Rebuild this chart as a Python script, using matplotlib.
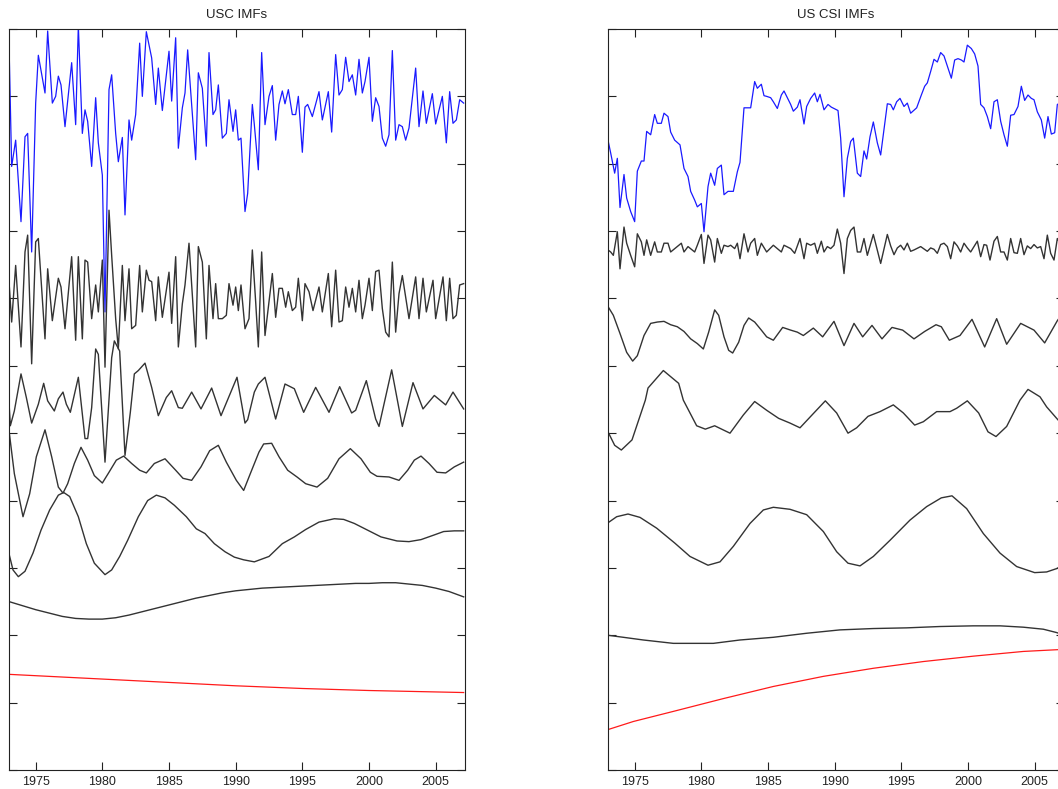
import numpy as np
import matplotlib
matplotlib.use("Agg")
from matplotlib import pyplot as plt

# ---- USC (left panel): (year, value), stacked units ----
usc_raw = [(1973.0, 10.79), (1973.2, 8.96), (1973.5, 9.35), (1973.9, 8.14), (1974.2, 9.40), (1974.4, 9.45),
           (1974.7, 7.69), (1975.0, 9.90), (1975.2, 10.61), (1975.7, 10.05), (1975.9, 10.97), (1976.25, 9.90),
           (1976.5, 10.0), (1976.7, 10.30), (1976.9, 10.17), (1977.2, 9.55), (1977.7, 10.50), (1978.0, 9.58),
           (1978.2, 11.05), (1978.5, 9.45), (1978.7, 9.80), (1978.9, 9.63), (1979.2, 8.96), (1979.5, 9.98),
           (1979.7, 9.31), (1980.0, 8.83), (1980.2, 6.80), (1980.5, 10.10), (1980.7, 10.32), (1981.0, 9.45),
           (1981.2, 9.03), (1981.5, 9.39), (1981.7, 8.24), (1982.0, 9.65), (1982.2, 9.35), (1982.5, 9.73),
           (1982.8, 10.79), (1983.0, 10.0), (1983.3, 10.96), (1983.7, 10.57), (1984.0, 9.88), (1984.2, 10.42),
           (1984.5, 9.79), (1985.0, 10.67), (1985.2, 9.93), (1985.5, 10.87), (1985.7, 9.23), (1986.0, 9.83),
           (1986.2, 10.05), (1986.4, 10.69), (1987.0, 9.06), (1987.2, 10.35), (1987.5, 10.12), (1987.8, 9.26),
           (1988.0, 10.65), (1988.3, 9.73), (1988.5, 9.80), (1988.7, 10.17), (1989.0, 9.38), (1989.3, 9.45),
           (1989.5, 9.95), (1989.8, 9.48), (1990.0, 9.80), (1990.2, 9.35), (1990.4, 9.38), (1990.7, 8.29),
           (1990.9, 8.56), (1991.25, 9.88), (1991.4, 9.58), (1991.7, 8.91), (1991.95, 10.65), (1992.2, 9.58),
           (1992.5, 10.0), (1992.75, 10.16), (1993.0, 9.35), (1993.25, 9.88), (1993.5, 10.08), (1993.7, 9.89),
           (1993.95, 10.10), (1994.25, 9.73), (1994.5, 9.73), (1994.7, 10.0), (1995.0, 9.17), (1995.2, 9.84),
           (1995.4, 9.88), (1995.75, 9.70), (1996.25, 10.07), (1996.5, 9.65), (1996.95, 10.07), (1997.2, 9.47),
           (1997.5, 10.62), (1997.75, 10.02), (1998.0, 10.10), (1998.25, 10.58), (1998.5, 10.22), (1998.75, 10.32),
           (1999.0, 10.02), (1999.25, 10.55), (1999.5, 10.05), (1999.7, 10.22), (2000.0, 10.58), (2000.25, 9.63),
           (2000.5, 9.98), (2000.75, 9.85), (2001.0, 9.38), (2001.25, 9.26), (2001.5, 9.43), (2001.75, 10.68),
           (2002.0, 9.35), (2002.25, 9.58), (2002.5, 9.55), (2002.75, 9.35), (2003.0, 9.53), (2003.5, 10.42),
           (2003.75, 9.55), (2004.05, 10.08), (2004.3, 9.60), (2004.75, 10.04), (2005.0, 9.59), (2005.5, 10.0),
           (2005.8, 9.31), (2006.05, 10.07), (2006.3, 9.60), (2006.55, 9.65), (2006.8, 9.95), (2007.1, 9.90)]

usc_imf1 = [(1973.0, 7.25), (1973.2, 6.65), (1973.5, 7.49), (1973.9, 6.28), (1974.2, 7.69), (1974.4, 7.94),
            (1974.7, 6.03), (1975.0, 7.84), (1975.2, 7.89), (1975.7, 6.40), (1975.9, 7.44), (1976.25, 6.67),
            (1976.7, 7.30), (1976.9, 7.17), (1977.2, 6.55), (1977.7, 7.62), (1978.0, 6.38), (1978.2, 7.62),
            (1978.5, 6.40), (1978.7, 7.57), (1978.9, 7.54), (1979.2, 6.70), (1979.5, 7.20), (1979.7, 6.80),
            (1980.0, 7.57), (1980.2, 5.98), (1980.5, 8.31), (1980.7, 7.64), (1981.0, 6.70), (1981.2, 6.25),
            (1981.5, 7.49), (1981.7, 6.67), (1982.0, 7.44), (1982.2, 6.55), (1982.5, 6.60), (1982.8, 7.49),
            (1983.0, 6.80), (1983.3, 7.42), (1983.5, 7.27), (1983.7, 7.25), (1984.0, 6.67), (1984.2, 7.32),
            (1984.5, 6.72), (1985.0, 7.39), (1985.2, 6.63), (1985.5, 7.62), (1985.7, 6.28), (1986.0, 6.92),
            (1986.2, 7.20), (1986.5, 7.82), (1987.0, 6.28), (1987.2, 7.77), (1987.5, 7.54), (1987.8, 6.40),
            (1988.0, 7.49), (1988.3, 6.70), (1988.5, 7.22), (1988.7, 6.70), (1989.0, 6.70), (1989.3, 6.75),
            (1989.5, 7.22), (1989.8, 6.90), (1990.0, 7.17), (1990.2, 6.82), (1990.4, 7.20), (1990.7, 6.55),
            (1991.0, 6.70), (1991.25, 7.72), (1991.5, 6.95), (1991.7, 6.28), (1991.95, 7.69), (1992.2, 6.45),
            (1992.75, 7.37), (1993.0, 6.72), (1993.25, 7.15), (1993.5, 7.15), (1993.75, 6.87), (1993.95, 7.10),
            (1994.25, 6.82), (1994.5, 6.87), (1994.7, 7.30), (1995.0, 6.67), (1995.2, 7.22), (1995.5, 7.10),
            (1995.8, 6.82), (1996.25, 7.17), (1996.5, 6.80), (1996.95, 7.37), (1997.2, 6.58), (1997.5, 7.42),
            (1997.75, 6.65), (1998.0, 6.67), (1998.25, 7.17), (1998.5, 6.87), (1998.75, 7.15), (1999.0, 6.80),
            (1999.25, 7.27), (1999.5, 6.70), (1999.7, 6.90), (2000.0, 7.30), (2000.25, 6.82), (2000.5, 7.40),
            (2000.75, 7.42), (2001.0, 6.85), (2001.25, 6.50), (2001.5, 6.43), (2001.75, 7.54), (2002.0, 6.50),
            (2002.25, 7.07), (2002.5, 7.34), (2003.0, 6.70), (2003.5, 7.32), (2003.75, 6.70), (2004.05, 7.30),
            (2004.3, 6.80), (2004.8, 7.27), (2005.0, 6.70), (2005.55, 7.32), (2005.8, 6.67), (2006.05, 7.30),
            (2006.3, 6.70), (2006.55, 6.75), (2006.8, 7.20), (2007.1, 7.22)]

usc_imf2 = [(1973.0, 5.46), (1973.1, 5.11), (1973.4, 5.33), (1973.9, 5.88), (1974.3, 5.53), (1974.7, 5.15),
            (1975.2, 5.43), (1975.6, 5.74), (1975.9, 5.48), (1976.4, 5.33), (1976.7, 5.51), (1977.05, 5.61),
            (1977.3, 5.43), (1977.6, 5.31), (1978.2, 5.83), (1978.7, 4.92), (1978.9, 4.92), (1979.2, 5.38),
            (1979.5, 6.25), (1979.7, 6.17), (1980.2, 4.57), (1980.7, 6.12), (1980.9, 6.37), (1981.3, 6.22),
            (1981.7, 4.67), (1982.1, 5.31), (1982.4, 5.88), (1982.7, 5.93), (1983.2, 6.04), (1983.7, 5.68),
            (1984.2, 5.26), (1984.8, 5.53), (1985.2, 5.63), (1985.7, 5.38), (1986.0, 5.37), (1986.7, 5.61),
            (1987.4, 5.36), (1988.2, 5.67), (1988.9, 5.26), (1990.1, 5.83), (1990.7, 5.15), (1990.9, 5.20),
            (1991.4, 5.61), (1991.7, 5.73), (1992.2, 5.83), (1993.0, 5.21), (1993.7, 5.73), (1994.4, 5.66),
            (1995.1, 5.31), (1996.0, 5.68), (1997.0, 5.31), (1997.8, 5.69), (1998.7, 5.30), (1999.0, 5.34),
            (1999.8, 5.78), (2000.5, 5.21), (2000.75, 5.10), (2001.7, 5.94), (2002.5, 5.10), (2003.3, 5.75),
            (2004.05, 5.36), (2004.9, 5.56), (2005.75, 5.42), (2006.3, 5.61), (2007.1, 5.36)]

usc_imf3 = [(1973.0, 5.04), (1973.4, 4.40), (1974.05, 3.76), (1974.55, 4.10), (1975.05, 4.65), (1975.7, 5.05),
            (1976.2, 4.65), (1976.7, 4.20), (1977.05, 4.11), (1977.4, 4.25), (1977.9, 4.55), (1978.4, 4.79),
            (1978.9, 4.60), (1979.4, 4.37), (1980.0, 4.26), (1980.5, 4.42), (1981.05, 4.60), (1981.6, 4.66),
            (1982.2, 4.55), (1982.8, 4.45), (1983.3, 4.41), (1983.9, 4.55), (1984.7, 4.62), (1985.5, 4.45),
            (1986.05, 4.33), (1986.7, 4.30), (1987.4, 4.50), (1988.05, 4.74), (1988.7, 4.82), (1989.3, 4.57),
            (1990.05, 4.30), (1990.6, 4.15), (1991.1, 4.40), (1991.75, 4.72), (1992.1, 4.84), (1992.7, 4.85),
            (1993.25, 4.65), (1993.9, 4.45), (1994.6, 4.35), (1995.25, 4.25), (1996.1, 4.20), (1996.9, 4.33),
            (1997.75, 4.62), (1998.6, 4.77), (1999.4, 4.62), (2000.1, 4.42), (2000.6, 4.36), (2001.5, 4.35),
            (2002.25, 4.30), (2002.9, 4.45), (2003.4, 4.60), (2003.9, 4.66), (2004.5, 4.55), (2005.1, 4.42),
            (2005.75, 4.41), (2006.4, 4.50), (2007.1, 4.57)]

usc_imf4 = [(1973.0, 3.21), (1973.3, 2.97), (1973.7, 2.87), (1974.2, 2.95), (1974.8, 3.22), (1975.4, 3.56),
            (1976.05, 3.86), (1976.7, 4.08), (1977.1, 4.12), (1977.55, 4.06), (1978.2, 3.76), (1978.8, 3.36),
            (1979.4, 3.07), (1980.2, 2.90), (1980.7, 2.97), (1981.3, 3.17), (1981.9, 3.41), (1982.7, 3.76),
            (1983.4, 4.00), (1984.05, 4.08), (1984.7, 4.04), (1985.4, 3.93), (1986.3, 3.76), (1987.05, 3.58),
            (1987.7, 3.51), (1988.4, 3.36), (1989.2, 3.24), (1989.9, 3.16), (1990.6, 3.12), (1991.4, 3.09),
            (1992.5, 3.17), (1993.5, 3.36), (1994.4, 3.46), (1995.25, 3.57), (1996.25, 3.68), (1997.4, 3.73),
            (1998.1, 3.72), (1998.9, 3.66), (1999.9, 3.56), (2000.9, 3.46), (2002.1, 3.40), (2003.0, 3.39),
            (2003.9, 3.42), (2004.9, 3.49), (2005.6, 3.54), (2006.4, 3.55), (2007.1, 3.55)]

usc_imf5 = [(1973.0, 2.50), (1974.0, 2.44), (1975.0, 2.38), (1976.0, 2.33), (1977.0, 2.28), (1978.0, 2.25),
            (1979.0, 2.24), (1980.0, 2.24), (1981.0, 2.26), (1982.0, 2.30), (1983.0, 2.35), (1984.0, 2.40),
            (1985.0, 2.45), (1986.0, 2.50), (1987.0, 2.55), (1988.0, 2.59), (1989.0, 2.63), (1990.0, 2.66),
            (1991.0, 2.68), (1992.0, 2.70), (1993.0, 2.71), (1994.0, 2.72), (1995.0, 2.73), (1996.0, 2.74),
            (1997.0, 2.75), (1998.0, 2.76), (1999.0, 2.77), (2000.0, 2.77), (2001.0, 2.78), (2002.0, 2.78),
            (2003.0, 2.76), (2004.0, 2.74), (2005.0, 2.70), (2006.0, 2.65), (2007.1, 2.57)]

usc_resid = [(1973.0, 1.42), (1980.0, 1.35), (1985.0, 1.30), (1990.0, 1.25), (1995.0, 1.21),
             (2000.0, 1.18), (2007.1, 1.15)]

# ---- US CSI (right panel) ----
csi_raw = [(1973.0, 9.35), (1973.2, 9.16), (1973.5, 8.86), (1973.7, 9.08), (1973.9, 8.35), (1974.2, 8.84),
           (1974.4, 8.49), (1974.7, 8.29), (1975.0, 8.14), (1975.2, 8.89), (1975.5, 9.04), (1975.7, 9.04),
           (1975.9, 9.48), (1976.2, 9.43), (1976.5, 9.73), (1976.7, 9.60), (1977.0, 9.60), (1977.2, 9.75),
           (1977.5, 9.70), (1977.7, 9.47), (1978.0, 9.35), (1978.4, 9.28), (1978.7, 8.93), (1979.0, 8.81),
           (1979.2, 8.59), (1979.5, 8.46), (1979.7, 8.36), (1980.0, 8.41), (1980.2, 7.99), (1980.5, 8.66),
           (1980.7, 8.86), (1981.0, 8.68), (1981.2, 8.93), (1981.5, 8.98), (1981.7, 8.54), (1982.0, 8.59),
           (1982.4, 8.59), (1982.7, 8.88), (1982.9, 9.02), (1983.2, 9.83), (1983.7, 9.83), (1984.0, 10.22),
           (1984.2, 10.12), (1984.5, 10.18), (1984.7, 10.01), (1984.9, 10.0), (1985.2, 9.98), (1985.4, 9.92),
           (1985.7, 9.82), (1986.0, 10.02), (1986.2, 10.08), (1986.4, 10.0), (1986.7, 9.88), (1986.9, 9.78),
           (1987.2, 9.84), (1987.4, 9.95), (1987.7, 9.59), (1987.9, 9.85), (1988.2, 9.97), (1988.5, 10.05),
           (1988.7, 9.92), (1988.9, 10.03), (1989.2, 9.80), (1989.5, 9.88), (1989.75, 9.84), (1990.25, 9.79),
           (1990.45, 9.38), (1990.7, 8.51), (1990.95, 9.08), (1991.2, 9.33), (1991.4, 9.38), (1991.7, 8.86),
           (1991.95, 8.81), (1992.2, 9.19), (1992.4, 9.07), (1992.65, 9.40), (1992.9, 9.62), (1993.2, 9.31),
           (1993.45, 9.13), (1993.95, 9.89), (1994.2, 9.88), (1994.4, 9.80), (1994.65, 9.92), (1994.9, 9.97),
           (1995.2, 9.85), (1995.45, 9.90), (1995.7, 9.75), (1996.15, 9.83), (1996.5, 10.02), (1996.75, 10.15),
           (1996.95, 10.20), (1997.2, 10.37), (1997.45, 10.55), (1997.7, 10.51), (1997.95, 10.65), (1998.2, 10.60),
           (1998.45, 10.45), (1998.75, 10.27), (1999.0, 10.54), (1999.25, 10.56), (1999.5, 10.54), (1999.7, 10.51),
           (1999.95, 10.76), (2000.25, 10.71), (2000.5, 10.63), (2000.75, 10.45), (2000.95, 9.88), (2001.2, 9.83),
           (2001.45, 9.70), (2001.7, 9.52), (2001.95, 9.92), (2002.2, 9.95), (2002.45, 9.63), (2002.7, 9.43),
           (2002.95, 9.26), (2003.2, 9.72), (2003.45, 9.73), (2003.75, 9.85), (2004.0, 10.15), (2004.25, 9.94),
           (2004.5, 10.02), (2004.75, 9.97), (2004.95, 9.95), (2005.2, 9.77), (2005.5, 9.65), (2005.75, 9.38),
           (2006.0, 9.70), (2006.25, 9.44), (2006.5, 9.46), (2006.7, 9.88), (2007.1, 9.92)]

csi_imf1 = [(1973.0, 7.72), (1973.2, 7.69), (1973.4, 7.64), (1973.7, 7.99), (1973.9, 7.44), (1974.2, 8.06),
            (1974.4, 7.82), (1974.7, 7.64), (1975.0, 7.47), (1975.2, 7.96), (1975.5, 7.84), (1975.7, 7.64),
            (1975.9, 7.87), (1976.2, 7.64), (1976.5, 7.84), (1976.7, 7.69), (1977.0, 7.69), (1977.2, 7.82),
            (1977.5, 7.82), (1977.7, 7.69), (1978.5, 7.82), (1978.7, 7.69), (1979.0, 7.77), (1979.5, 7.69),
            (1979.7, 7.79), (1980.0, 7.95), (1980.2, 7.52), (1980.5, 7.94), (1980.7, 7.87), (1981.0, 7.54),
            (1981.2, 7.89), (1981.5, 7.67), (1981.7, 7.79), (1982.0, 7.77), (1982.2, 7.79), (1982.5, 7.74),
            (1982.7, 7.82), (1982.9, 7.59), (1983.2, 7.96), (1983.5, 7.69), (1983.7, 7.82), (1984.0, 7.89),
            (1984.2, 7.64), (1984.5, 7.82), (1984.9, 7.69), (1985.4, 7.79), (1986.0, 7.69), (1986.2, 7.79),
            (1986.7, 7.74), (1987.0, 7.67), (1987.4, 7.89), (1987.7, 7.59), (1987.9, 7.82), (1988.2, 7.79),
            (1988.5, 7.82), (1988.7, 7.67), (1989.0, 7.85), (1989.2, 7.69), (1989.45, 7.77), (1989.7, 7.74),
            (1989.95, 7.79), (1990.2, 8.03), (1990.45, 7.82), (1990.7, 7.37), (1990.95, 7.89), (1991.2, 8.01),
            (1991.45, 8.06), (1991.7, 7.69), (1991.95, 7.69), (1992.2, 7.89), (1992.45, 7.64), (1992.9, 7.95),
            (1993.45, 7.52), (1993.95, 7.95), (1994.2, 7.78), (1994.45, 7.65), (1994.7, 7.75), (1994.95, 7.79),
            (1995.2, 7.72), (1995.45, 7.82), (1995.7, 7.70), (1995.95, 7.72), (1996.45, 7.77), (1996.95, 7.70),
            (1997.2, 7.75), (1997.45, 7.73), (1997.7, 7.67), (1997.95, 7.80), (1998.2, 7.82), (1998.45, 7.77),
            (1998.7, 7.59), (1998.95, 7.84), (1999.2, 7.78), (1999.45, 7.69), (1999.7, 7.82), (1999.95, 7.75),
            (2000.2, 7.69), (2000.45, 7.77), (2000.7, 7.85), (2000.95, 7.62), (2001.2, 7.80), (2001.4, 7.79),
            (2001.65, 7.57), (2001.95, 7.85), (2002.2, 7.92), (2002.45, 7.69), (2002.7, 7.69), (2002.95, 7.57),
            (2003.2, 7.89), (2003.45, 7.68), (2003.7, 7.67), (2003.95, 7.89), (2004.2, 7.65), (2004.45, 7.78),
            (2004.7, 7.74), (2004.95, 7.80), (2005.2, 7.75), (2005.45, 7.77), (2005.7, 7.59), (2005.95, 7.94),
            (2006.2, 7.67), (2006.45, 7.57), (2006.7, 7.89), (2007.1, 7.75)]

csi_imf2 = [(1973.0, 6.88), (1973.4, 6.75), (1973.9, 6.48), (1974.4, 6.20), (1974.85, 6.07), (1975.2, 6.15),
            (1975.7, 6.45), (1976.2, 6.63), (1976.7, 6.65), (1977.2, 6.66), (1977.7, 6.61), (1978.2, 6.58),
            (1978.7, 6.51), (1979.2, 6.40), (1979.7, 6.33), (1980.15, 6.25), (1980.55, 6.50), (1981.0, 6.83),
            (1981.3, 6.75), (1981.7, 6.43), (1982.05, 6.23), (1982.35, 6.19), (1982.8, 6.35), (1983.2, 6.60),
            (1983.55, 6.71), (1984.0, 6.65), (1984.5, 6.53), (1984.9, 6.43), (1985.4, 6.38), (1986.1, 6.57),
            (1986.7, 6.53), (1987.2, 6.50), (1987.65, 6.45), (1988.4, 6.56), (1989.1, 6.43), (1989.95, 6.66),
            (1990.7, 6.30), (1991.45, 6.63), (1992.1, 6.43), (1992.8, 6.60), (1993.55, 6.40), (1994.3, 6.57),
            (1995.1, 6.53), (1995.95, 6.40), (1996.75, 6.51), (1997.6, 6.61), (1998.0, 6.58), (1998.6, 6.38),
            (1999.4, 6.45), (2000.3, 6.69), (2001.25, 6.28), (2002.15, 6.70), (2002.9, 6.32), (2003.95, 6.63),
            (2004.95, 6.53), (2005.75, 6.34), (2006.7, 6.67), (2007.1, 6.78)]

csi_imf3 = [(1973.0, 5.02), (1973.5, 4.82), (1974.0, 4.75), (1974.8, 4.90), (1975.8, 5.49), (1976.0, 5.67),
            (1977.15, 5.93), (1978.3, 5.74), (1978.65, 5.49), (1979.65, 5.11), (1980.3, 5.06), (1981.0, 5.11),
            (1982.15, 5.00), (1983.15, 5.27), (1984.0, 5.47), (1984.9, 5.34), (1985.8, 5.22), (1986.65, 5.15),
            (1987.4, 5.08), (1988.3, 5.27), (1989.3, 5.48), (1990.15, 5.30), (1991.0, 5.00), (1991.65, 5.08),
            (1992.5, 5.25), (1993.4, 5.32), (1994.4, 5.42), (1995.15, 5.30), (1996.0, 5.12), (1996.65, 5.17),
            (1997.65, 5.32), (1998.65, 5.32), (1999.15, 5.37), (1999.95, 5.48), (2000.8, 5.30), (2001.5, 5.02),
            (2002.1, 4.95), (2002.9, 5.10), (2003.9, 5.49), (2004.5, 5.65), (2005.4, 5.54), (2005.9, 5.39),
            (2006.65, 5.22), (2007.1, 5.12)]

csi_imf4 = [(1973.0, 3.67), (1973.65, 3.76), (1974.5, 3.80), (1975.4, 3.75), (1976.65, 3.59), (1978.0, 3.37),
            (1979.15, 3.17), (1980.5, 3.04), (1981.4, 3.09), (1982.4, 3.32), (1983.65, 3.66), (1984.65, 3.86),
            (1985.4, 3.90), (1986.65, 3.87), (1987.9, 3.79), (1989.15, 3.54), (1990.15, 3.24), (1991.0, 3.07),
            (1991.9, 3.03), (1992.9, 3.17), (1994.15, 3.41), (1995.65, 3.71), (1996.9, 3.91), (1998.0, 4.04),
            (1998.8, 4.07), (1999.9, 3.88), (2001.15, 3.51), (2002.4, 3.22), (2003.65, 3.02), (2005.0, 2.93),
            (2005.9, 2.94), (2006.65, 2.99), (2007.1, 3.04)]

csi_imf5 = [(1973.0, 2.00), (1974.15, 1.97), (1975.65, 1.93), (1977.9, 1.88), (1980.9, 1.88), (1982.9, 1.93),
            (1985.4, 1.97), (1987.9, 2.03), (1990.4, 2.08), (1992.9, 2.10), (1995.4, 2.11), (1997.9, 2.13),
            (2000.4, 2.14), (2002.4, 2.14), (2004.15, 2.12), (2005.65, 2.09), (2006.65, 2.04), (2007.1, 2.01)]

csi_resid = [(1973.0, 0.60), (1974.9, 0.72), (1977.9, 0.87), (1981.65, 1.06), (1985.4, 1.24), (1989.15, 1.39),
             (1992.9, 1.51), (1996.65, 1.61), (2000.4, 1.69), (2004.15, 1.76), (2007.1, 1.79)]

titles = ["USC IMFs", "US CSI IMFs"]
year_ticks = [1975, 1980, 1985, 1990, 1995, 2000, 2005]

plt.rcParams['font.family'] = ['Liberation Sans', 'DejaVu Sans']

fig = plt.figure(figsize=(10.58, 7.89), dpi=100)
W, H = 1058.0, 789.0
ax1 = fig.add_axes([9 / W, 1 - 770 / H, 456 / W, 741 / H])
ax2 = fig.add_axes([608 / W, 1 - 770 / H, 456 / W, 741 / H])

panels = [
    (ax1, usc_raw, [usc_imf1, usc_imf2, usc_imf3, usc_imf4, usc_imf5], usc_resid),
    (ax2, csi_raw, [csi_imf1, csi_imf2, csi_imf3, csi_imf4, csi_imf5], csi_resid),
]

for (ax, raw, imfs, resid), title in zip(panels, titles):
    x, y = np.array(raw).T
    ax.plot(x, y, color="#1a1aff", lw=0.9)
    for imf in imfs:
        x, y = np.array(imf).T
        ax.plot(x, y, color="#333333", lw=1.0)
    x, y = np.array(resid).T
    ax.plot(x, y, color="#ff1a1a", lw=0.9)

    ax.set_xlim(1973.0, 2007.2)
    ax.set_ylim(0, 11)
    ax.set_xticks(year_ticks)
    ax.set_yticks(range(0, 12))
    ax.set_yticklabels([])
    ax.tick_params(direction="in", length=6, width=0.8, top=True, right=True,
                   labelsize=9, pad=4, colors="#222222")
    for s in ax.spines.values():
        s.set_linewidth(0.8)
        s.set_color("#222222")
    ax.set_title(title, fontsize=9.5, pad=8, color="#222222")

fig.savefig("out.png", dpi=100)
